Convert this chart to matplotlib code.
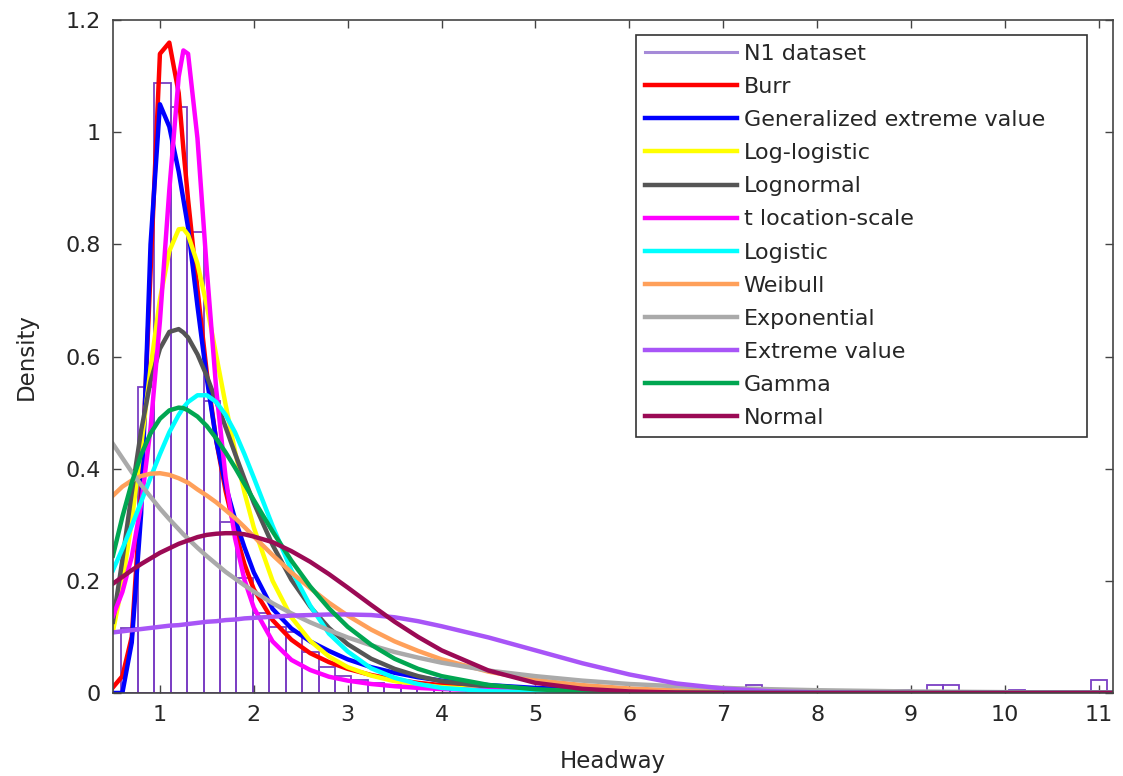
#!/usr/bin/env python3
"""Headway histogram of the N1 dataset with twelve fitted densities."""

from __future__ import annotations

import matplotlib

matplotlib.use("Agg")

import matplotlib.pyplot as plt
import numpy as np
from matplotlib.lines import Line2D

# histogram of the N1 sample (density-normalised), fixed-width bins
BIN_START = 0.59
BIN_WIDTH = 0.175
HIST_DENSITY = [
    0.116, 0.546, 1.088, 1.045, 0.823, 0.52, 0.305, 0.205, 0.143, 0.118,
    0.109, 0.073, 0.046, 0.030, 0.023, 0.018, 0.015, 0.012, 0.010, 0.008,
    0.007, 0.006, 0.005, 0.004, 0.004, 0.003, 0.006, 0.010, 0.003, 0.002,
    0.003, 0.002, 0.002, 0.0, 0.003, 0.0, 0.002, 0.0, 0.014, 0.003,
    0.003, 0.003, 0.004, 0.005, 0.005, 0.005, 0.0, 0.006, 0.0, 0.014,
    0.014, 0.0, 0.0, 0.0, 0.005, 0.0, 0.0, 0.0, 0.0, 0.023,
]

HEADWAY = [
    0.5, 0.6, 0.7, 0.8, 0.9, 1.0, 1.1, 1.2, 1.25,
    1.3, 1.4, 1.5, 1.6, 1.7, 1.8, 1.9, 2.0,
    2.2, 2.4, 2.6, 2.8, 3.0,
    3.25, 3.5, 3.75, 4.0,
    4.5, 5.0, 5.5, 6.0, 6.5, 7.0, 7.5, 8.0,
    9.0, 10.0, 11.15,
]

BURR = [
    0.01, 0.03, 0.10, 0.36, 0.75, 1.14, 1.16, 1.07, 0.97,
    0.88, 0.72, 0.57, 0.45, 0.36, 0.29, 0.23, 0.185,
    0.13, 0.095, 0.071, 0.055, 0.043,
    0.032, 0.024, 0.018, 0.014,
    0.009, 0.006, 0.004, 0.003, 0.002, 0.0015, 0.001, 0.0008,
    0.0005, 0.0003, 0.0002,
]
GEV = [
    0.0, 0.0, 0.09, 0.32, 0.80, 1.05, 1.01, 0.93, 0.88,
    0.83, 0.69, 0.56, 0.45, 0.37, 0.31, 0.26, 0.215,
    0.15, 0.115, 0.092, 0.075, 0.060,
    0.046, 0.036, 0.028, 0.022,
    0.014, 0.009, 0.006, 0.004, 0.003, 0.002, 0.0015, 0.001,
    0.0006, 0.0004, 0.0003,
]
LOG_LOGISTIC = [
    0.110, 0.195, 0.307, 0.440, 0.579, 0.702, 0.788, 0.827, 0.828,
    0.817, 0.766, 0.690, 0.602, 0.514, 0.431, 0.358, 0.295,
    0.200, 0.135, 0.093, 0.065, 0.046,
    0.031, 0.021, 0.015, 0.0105,
    0.0057, 0.0033, 0.002, 0.0012, 0.0008, 0.0005, 0.0004, 0.0003,
    0.0001, 0.0001, 0.0,
]
LOGNORMAL = [
    0.127, 0.237, 0.357, 0.468, 0.556, 0.614, 0.644, 0.649, 0.643,
    0.634, 0.604, 0.565, 0.520, 0.474, 0.427, 0.382, 0.339,
    0.264, 0.202, 0.154, 0.116, 0.087,
    0.061, 0.043, 0.030, 0.021,
    0.011, 0.0055, 0.0029, 0.0015, 0.0008, 0.0005, 0.0003, 0.0002,
    0.0001, 0.0, 0.0,
]
T_LOC_SCALE = [
    0.137, 0.180, 0.243, 0.336, 0.472, 0.663, 0.897, 1.099, 1.146,
    1.140, 0.989, 0.754, 0.541, 0.384, 0.276, 0.202, 0.152,
    0.092, 0.059, 0.041, 0.029, 0.022,
    0.016, 0.012, 0.009, 0.007,
    0.0048, 0.0034, 0.0025, 0.0019, 0.0015, 0.0012, 0.001, 0.0008,
    0.0006, 0.0005, 0.0004,
]
LOGISTIC = [
    0.219, 0.257, 0.298, 0.341, 0.384, 0.426, 0.465, 0.496, 0.509,
    0.519, 0.531, 0.531, 0.519, 0.496, 0.465, 0.426, 0.384,
    0.298, 0.219, 0.156, 0.106, 0.074,
    0.044, 0.027, 0.016, 0.009,
    0.0032, 0.0011, 0.0004, 0.0001, 0.0, 0.0, 0.0, 0.0,
    0.0, 0.0, 0.0,
]
WEIBULL = [
    0.352, 0.368, 0.379, 0.387, 0.391, 0.392, 0.389, 0.383, 0.379,
    0.375, 0.363, 0.352, 0.340, 0.326, 0.312, 0.296, 0.279,
    0.246, 0.215, 0.187, 0.161, 0.138,
    0.113, 0.092, 0.075, 0.060,
    0.038, 0.023, 0.014, 0.008, 0.0045, 0.0025, 0.0013, 0.0007,
    0.0002, 0.0, 0.0,
]
EXPONENTIAL = [
    0.444, 0.419, 0.394, 0.371, 0.350, 0.329, 0.310, 0.292, 0.283,
    0.275, 0.259, 0.244, 0.230, 0.216, 0.204, 0.192, 0.181,
    0.160, 0.142, 0.126, 0.112, 0.099,
    0.085, 0.073, 0.063, 0.054,
    0.040, 0.030, 0.022, 0.016, 0.012, 0.009, 0.0067, 0.0049,
    0.0027, 0.0015, 0.0007,
]
EXTREME_VALUE = [
    0.108, 0.110, 0.112, 0.114, 0.116, 0.118, 0.120, 0.121, 0.122,
    0.123, 0.125, 0.127, 0.128, 0.130, 0.131, 0.133, 0.134,
    0.136, 0.138, 0.139, 0.140, 0.140,
    0.139, 0.135, 0.128, 0.119,
    0.099, 0.076, 0.053, 0.033, 0.017, 0.008, 0.003, 0.001,
    0.0, 0.0, 0.0,
]
GAMMA = [
    0.245, 0.314, 0.375, 0.425, 0.463, 0.489, 0.504, 0.509, 0.508,
    0.504, 0.493, 0.476, 0.454, 0.429, 0.402, 0.373, 0.344,
    0.288, 0.236, 0.190, 0.151, 0.118,
    0.086, 0.061, 0.043, 0.030,
    0.0143, 0.0066, 0.0029, 0.0013, 0.0006, 0.00025, 0.0001, 0.0,
    0.0, 0.0, 0.0,
]
NORMAL = [
    0.195, 0.207, 0.219, 0.230, 0.240, 0.250, 0.258, 0.266, 0.269,
    0.272, 0.278, 0.282, 0.284, 0.285, 0.285, 0.283, 0.279,
    0.269, 0.253, 0.234, 0.212, 0.188,
    0.157, 0.127, 0.100, 0.076,
    0.040, 0.018, 0.0074, 0.0027, 0.0008, 0.0002, 0.0, 0.0,
    0.0, 0.0, 0.0,
]

DATASET_LABEL = "N1 dataset"
FIT_LABELS = [
    "Burr", "Generalized extreme value", "Log-logistic", "Lognormal",
    "t location-scale", "Logistic", "Weibull", "Exponential",
    "Extreme value", "Gamma", "Normal",
]
FIT_VALUES = [
    BURR, GEV, LOG_LOGISTIC, LOGNORMAL, T_LOC_SCALE, LOGISTIC,
    WEIBULL, EXPONENTIAL, EXTREME_VALUE, GAMMA, NORMAL,
]

FIT_COLORS = [
    "#ff0000", "#0000ff", "#ffff00", "#555555", "#ff00ff", "#00ffff",
    "#ffa05a", "#aaaaaa", "#a855f7", "#00a651", "#9b0a55",
]
BAR_EDGE = "#7b3fc4"
DATASET_LINE = "#a58ad8"
AXIS_COLOR = "#444444"
TEXT_COLOR = "#262626"


def make_figure(output: str) -> None:
    """Draw the outlined histogram, the fitted curves and the legend."""
    plt.rcParams["font.family"] = ["DejaVu Sans"]
    fig = plt.figure(figsize=(11.23, 7.76), dpi=100)
    axis = fig.add_axes([0.1006, 0.107, 0.8904, 0.867])

    lefts = BIN_START + BIN_WIDTH * np.arange(len(HIST_DENSITY))
    axis.bar(lefts, HIST_DENSITY, width=BIN_WIDTH, align="edge", fill=False,
             edgecolor=BAR_EDGE, linewidth=1.3, zorder=1)

    handles = [Line2D([], [], color=DATASET_LINE, linewidth=2.2)]
    for label, values, color in zip(FIT_LABELS, FIT_VALUES, FIT_COLORS):
        (line,) = axis.plot(HEADWAY, values, color=color, linewidth=3.2,
                            solid_joinstyle="round", label=label, zorder=2)
        handles.append(line)

    axis.set_xlim(0.5, 11.15)
    axis.set_ylim(0.0, 1.2)
    axis.set_xticks(range(1, 12))
    axis.set_yticks([0, 0.2, 0.4, 0.6, 0.8, 1.0, 1.2])
    axis.set_yticklabels(["0", "0.2", "0.4", "0.6", "0.8", "1", "1.2"])
    axis.tick_params(direction="in", length=6, width=1.0, top=True, right=True,
                     labelsize=16, colors=AXIS_COLOR, labelcolor=TEXT_COLOR, pad=9)
    for spine in axis.spines.values():
        spine.set_color(AXIS_COLOR)
        spine.set_linewidth(1.2)

    axis.set_xlabel("Headway", fontsize=16.5, color=TEXT_COLOR, labelpad=18)
    axis.set_ylabel("Density", fontsize=16.5, color=TEXT_COLOR, labelpad=20)

    legend = axis.legend(
        handles,
        [DATASET_LABEL] + FIT_LABELS,
        loc="upper left",
        bbox_to_anchor=(0.523, 0.377, 0.451, 0.601),
        mode="expand",
        borderaxespad=0.0,
        fontsize=16,
        handlelength=4.15,
        handletextpad=0.3,
        labelspacing=0.59,
        borderpad=0.4,
        fancybox=False,
        framealpha=1.0,
    )
    legend.get_frame().set_edgecolor("#333333")
    legend.get_frame().set_linewidth(1.2)
    for text in legend.get_texts():
        text.set_color(TEXT_COLOR)

    fig.savefig(output, dpi=100)
    plt.close(fig)


def main() -> None:
    make_figure("out.png")


if __name__ == "__main__":
    main()
